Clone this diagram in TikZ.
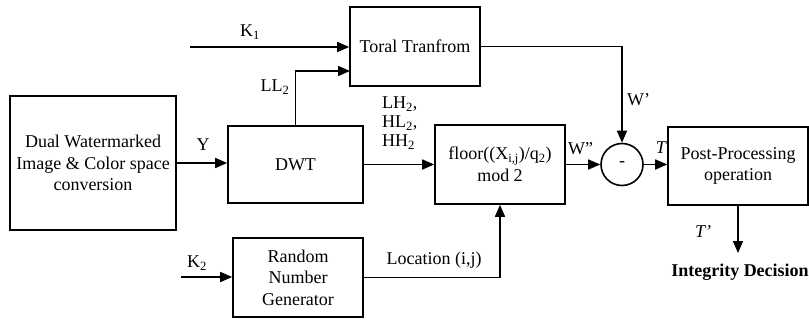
\documentclass[tikz,border=0pt]{standalone}
\usepackage{fontspec}
\setmainfont{Liberation Serif}
\usetikzlibrary{arrows.meta}
\begin{document}
\begin{tikzpicture}[x=1pt,y=-1pt,
  font=\fontsize{18}{21.5}\selectfont,
  blk/.style={draw,line width=1.6pt,rectangle,inner sep=0pt,align=center},
  conn/.style={line width=1.6pt,-{Triangle[length=12pt,width=10pt]}},
  lbl/.style={inner sep=0pt}]
\useasboundingbox (0,0) rectangle (809,321);
\node[blk,minimum width=130pt,minimum height=79pt] (toral) at (415,46.5) {Toral Tranfrom};
\node[blk,minimum width=166pt,minimum height=134pt] (dual) at (93,163) {Dual Watermarked\\Image \& Color space\\conversion};
\node[blk,minimum width=135pt,minimum height=77pt] (dwt) at (295.5,164.5) {DWT};
\node[blk,minimum width=130pt,minimum height=79pt] (rng) at (298,277.5) {Random\\Number\\Generator};
\node[blk,minimum width=130pt,minimum height=79pt] (floor) at (500,164.5) {floor((X\textsubscript{i,j})/q\textsubscript{2})\\mod 2};
\node[blk,minimum width=140pt,minimum height=78pt] (post) at (738,166) {Post-Processing\\operation};
\node[draw,line width=1.6pt,circle,minimum size=42pt,inner sep=0pt] (circ) at (622,164.5) {-};
\coordinate (k1) at (190,47);
\coordinate (k2) at (181,277);
\coordinate (llin) at (350,71);
\coordinate (out) at (738,253);
\draw[conn] (k1) -- (k1 -| toral.west);
\draw[conn] (dwt.north) |- (llin);
\draw[conn] (dual.east) -- (dual.east -| dwt.west);
\draw[conn] (dwt.east) -- (floor.west);
\draw[conn] (k2) -- (k2 -| rng.west);
\draw[conn] (rng.east) -| (floor.south);
\draw[conn] (floor.east) -- (circ.west);
\draw[conn] (toral.east) -| (circ.north);
\draw[conn] (circ.east) -- (circ.east -| post.west);
\draw[conn] (post.south) -- (out);
\node[lbl] (lk1) at (250,32) {K\textsubscript{1}};
\node[lbl] (lll) at (275,87) {LL\textsubscript{2}};
\node[lbl] (ly) at (203,145) {Y};
\node[lbl,anchor=west] (llh) at (382,104) {LH\textsubscript{2},};
\node[lbl,anchor=west] (lhl) at (382,123) {HL\textsubscript{2},};
\node[lbl,anchor=west] (lhh) at (382,142) {HH\textsubscript{2}};
\node[lbl,anchor=west] (lw2) at (568,149) {W''};
\node[lbl,anchor=east] (lt) at (666,148) {\itshape T};
\node[lbl,anchor=west] (lw1) at (627,100) {W'};
\node[lbl] (lk2) at (197,263) {K\textsubscript{2}};
\node[lbl] (lloc) at (434,260) {Location (i,j)};
\node[lbl] (ltp) at (703,232) {\itshape T'};
\node[lbl] (lint) at (740,272) {\bfseries Integrity Decision};
\end{tikzpicture}
\end{document}
